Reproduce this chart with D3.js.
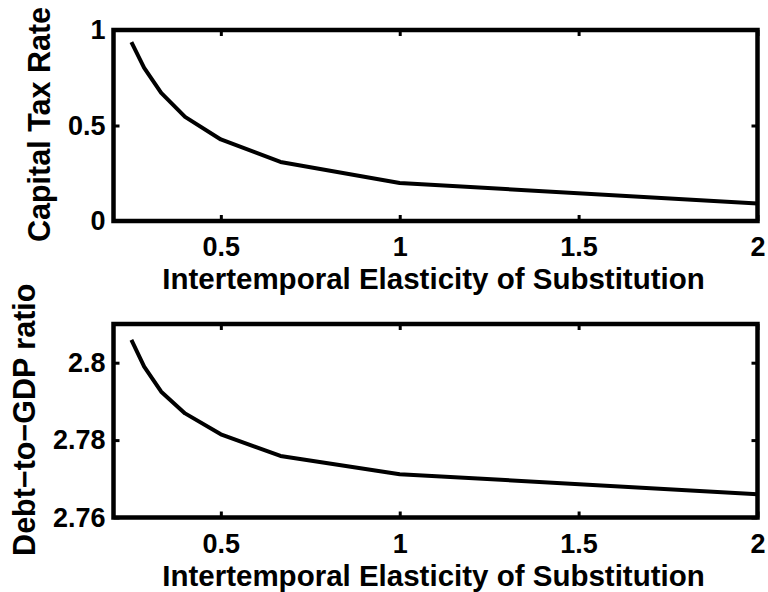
<!DOCTYPE html>
<html>
<head>
<meta charset="utf-8">
<script src="https://cdn.jsdelivr.net/npm/d3@7"></script>
<style>
  html, body { margin: 0; padding: 0; background: #fff; }
  svg { display: block; }
  text { font-family: "Liberation Sans", Arial, Helvetica, sans-serif; font-weight: bold; fill: #000; }
</style>
</head>
<body>
<script>
// ---- data ----
const ies = [0.25, 0.2857, 0.3333, 0.4, 0.5, 0.6667, 1, 2];
const capitalTaxRate = [0.937, 0.802, 0.671, 0.545, 0.427, 0.309, 0.199, 0.091];
const debtToGDP = [2.8059, 2.7990, 2.7925, 2.7869, 2.7815, 2.7759, 2.7712, 2.7660];
const xTicks = [0.5, 1, 1.5, 2];
const xTickLabels = ["0.5", "1", "1.5", "2"];
const yTicksTop = [0, 0.5, 1];
const yTickLabelsTop = ["0", "0.5", "1"];
const yTicksBottom = [2.76, 2.78, 2.8];
const yTickLabelsBottom = ["2.76", "2.78", "2.8"];
const xLabel = "Intertemporal Elasticity of Substitution";
const yLabelTop = "Capital Tax Rate";
const yLabelBottom = "Debt\u2212to\u2212GDP ratio";

// ---- layout ----
const W = 768, H = 592;
const left = 113.5, right = 757.5;
const svg = d3.select("body").append("svg").attr("width", W).attr("height", H);

const x = d3.scaleLinear().domain([0.2, 2]).range([left, right]);

function panel(top, bottom, yDomain, yTicks, yTickLabels, values, yLabel, yLabelX, xLabelY) {
  const y = d3.scaleLinear().domain(yDomain).range([bottom, top]);
  const g = svg.append("g");
  const tickLen = 6;
  const tickFont = 27;

  const fmtX = d => xTickLabels[xTicks.indexOf(d)];
  const fmtY = d => yTickLabels[yTicks.indexOf(d)];

  const ab = g.append("g").attr("transform", `translate(0,${bottom})`)
    .call(d3.axisBottom(x).tickValues(xTicks).tickFormat(fmtX).tickSizeInner(-tickLen).tickSizeOuter(0).tickPadding(16));
  const at = g.append("g").attr("transform", `translate(0,${top})`)
    .call(d3.axisTop(x).tickValues(xTicks).tickFormat("").tickSizeInner(-tickLen).tickSizeOuter(0));
  const al = g.append("g").attr("transform", `translate(${left},0)`)
    .call(d3.axisLeft(y).tickValues(yTicks).tickFormat(fmtY).tickSizeInner(-tickLen).tickSizeOuter(0).tickPadding(8));
  const ar = g.append("g").attr("transform", `translate(${right},0)`)
    .call(d3.axisRight(y).tickValues(yTicks).tickFormat("").tickSizeInner(-tickLen).tickSizeOuter(0));

  [ab, at, al, ar].forEach(a => {
    a.select(".domain").remove();
    a.selectAll(".tick line").attr("stroke", "#000").attr("stroke-width", 3);
    a.selectAll(".tick text").attr("font-size", tickFont)
      .style("font-family", '"Liberation Sans", Arial, sans-serif').style("font-weight", "bold").attr("fill", "#000");
  });

  g.append("rect").attr("x", left).attr("y", top).attr("width", right - left).attr("height", bottom - top)
    .attr("fill", "none").attr("stroke", "#000").attr("stroke-width", 4.5);

  const line = d3.line().x((d, i) => x(ies[i])).y(d => y(d));
  g.append("path").datum(values).attr("d", line)
    .attr("fill", "none").attr("stroke", "#000").attr("stroke-width", 4)
    .attr("stroke-linejoin", "round");

  g.append("text").attr("x", (left + right) / 2 - 2).attr("y", xLabelY)
    .attr("text-anchor", "middle").attr("font-size", 29.5).text(xLabel);
  g.append("text").attr("transform", `translate(${yLabelX},${(top + bottom) / 2 - 1}) rotate(-90)`)
    .attr("text-anchor", "middle").attr("font-size", 30.5).text(yLabel);
}

panel(30, 221, [0, 1], yTicksTop, yTickLabelsTop, capitalTaxRate, yLabelTop, 50, 289);
panel(324, 517.5, [2.76, 2.81], yTicksBottom, yTickLabelsBottom, debtToGDP, yLabelBottom, 35, 585.5);
</script>
</body>
</html>
